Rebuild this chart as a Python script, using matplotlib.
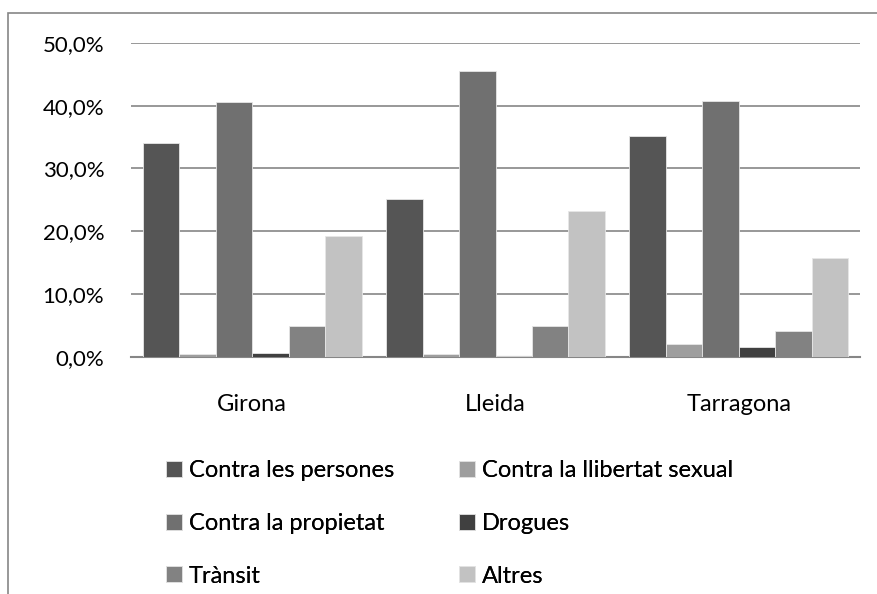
import numpy as np
import matplotlib.pyplot as plt
from matplotlib.patches import Rectangle
from matplotlib.ticker import FuncFormatter

plt.rcParams['font.family'] = ['Lato', 'DejaVu Sans']

# dades (%)
regions = ['Girona', 'Lleida', 'Tarragona']
series = ['Contra les persones', 'Contra la llibertat sexual', 'Contra la propietat',
          'Drogues', 'Trànsit', 'Altres']
persones = [34.0, 25.1, 35.2]
llibertat = [0.4, 0.4, 2.1]
propietat = [40.5, 45.5, 40.7]
drogues = [0.6, 0.2, 1.6]
transit = [5.0, 5.0, 4.1]
altres = [19.3, 23.2, 15.8]
values = [persones, llibertat, propietat, drogues, transit, altres]
colors = ['#555555', '#9e9e9e', '#707070', '#404040', '#828282', '#c2c2c2']

fig = plt.figure(figsize=(8.77, 5.94), dpi=100)
ax = fig.add_axes([0.149, 0.399, 0.832, 0.529])

# marc del gràfic
fig.patches.append(Rectangle((8 / 877, -0.1), 1.2, 1 - 13 / 594 + 0.1, transform=fig.transFigure,
                             fill=False, edgecolor='#868686', linewidth=1.2))

x = np.arange(len(regions))
w = 0.15
bars = []
for i, (vals, c) in enumerate(zip(values, colors)):
    b = ax.bar(x - 0.375 + i * w, vals, width=w, color=c, edgecolor='#e6e6e6', linewidth=0.6,
               label=series[i], zorder=3)
    bars.append(b)

ax.set_xlim(-0.5, 2.5)
ax.set_ylim(0, 50)
ax.set_yticks(np.arange(0, 51, 10))
ax.yaxis.set_major_formatter(FuncFormatter(lambda v, p: f'{v:.1f}%'.replace('.', ',')))
ax.set_xticks(x)
ax.set_xticklabels(regions)
ax.tick_params(length=0, colors='black')
ax.tick_params(axis='x', pad=27, labelsize=17)
ax.tick_params(axis='y', pad=19, labelsize=16)
ax.grid(axis='y', color='#868686', linewidth=1.2, zorder=0)
for s in ['top', 'right', 'left']:
    ax.spines[s].set_visible(False)
ax.spines['bottom'].set_color('#868686')
ax.spines['bottom'].set_linewidth(1.5)

# llegenda en dues columnes
leg_kw = dict(loc='upper left', frameon=False, fontsize=17, handlelength=0.66, handleheight=0.66,
              handletextpad=0.3, labelspacing=1.35, borderpad=0, borderaxespad=0)
for col, x0 in zip([[0, 2, 4], [1, 3, 5]], [166 / 877, 459 / 877]):
    leg = fig.legend([bars[i] for i in col], [series[i] for i in col],
                     bbox_to_anchor=(x0, 0.2256), **leg_kw)
    fig.add_artist(leg)

fig.savefig('out.png')
